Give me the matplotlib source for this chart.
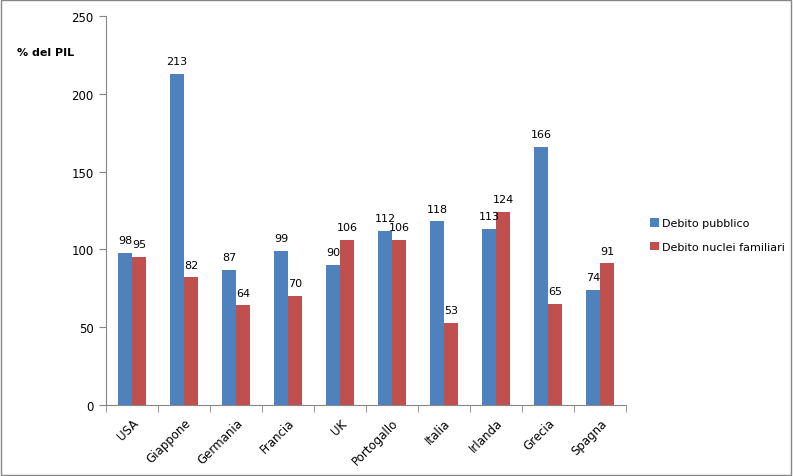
import matplotlib.pyplot as plt
import numpy as np

paesi = ['USA', 'Giappone', 'Germania', 'Francia', 'UK', 'Portogallo',
         'Italia', 'Irlanda', 'Grecia', 'Spagna']
debito_pubblico = [98, 213, 87, 99, 90, 112, 118, 113, 166, 74]
debito_famiglie = [95, 82, 64, 70, 106, 106, 53, 124, 65, 91]

blu = '#4F81BD'
rosso = '#C0504D'

plt.rcParams['font.family'] = 'DejaVu Sans'
plt.rcParams['font.size'] = 8

fig = plt.figure(figsize=(7.93, 4.77), dpi=100)
ax = fig.add_axes([106 / 793, 1 - 406 / 477, 520 / 793, 389 / 477])

x = np.arange(len(paesi))
w = 0.27
b1 = ax.bar(x - w / 2, debito_pubblico, w, color=blu, label='Debito pubblico')
b2 = ax.bar(x + w / 2, debito_famiglie, w, color=rosso, label='Debito nuclei familiari')

for bars, vals in ((b1, debito_pubblico), (b2, debito_famiglie)):
    for r, v in zip(bars, vals):
        ax.text(r.get_x() + r.get_width() / 2, v + 5, str(v),
                ha='center', va='bottom', fontsize=8)

ax.set_xlim(-0.5, len(paesi) - 0.5)
ax.set_ylim(0, 250)
ax.set_yticks(range(0, 251, 50))

ax.set_xticks(x)
ax.set_xticklabels(paesi, rotation=45, ha='right', rotation_mode='anchor',
                   fontsize=8.5)
ax.tick_params(axis='x', length=0, pad=8)
ax.set_xticks(np.arange(-0.5, len(paesi), 1), minor=True)
ax.tick_params(axis='x', which='minor', length=5, color='#868686', direction='out')
ax.tick_params(axis='y', length=5, color='#868686', direction='out', pad=4,
               labelsize=8.5)

for s in ('top', 'right'):
    ax.spines[s].set_visible(False)
for s in ('left', 'bottom'):
    ax.spines[s].set_color('#868686')

fig.text(17 / 793, 1 - 53 / 477, '% del PIL', fontsize=8, fontweight='bold',
         ha='left', va='center')

fig.legend(loc='center left', bbox_to_anchor=(640 / 793, 1 - 236 / 477),
           frameon=False, handlelength=0.8, handleheight=0.8,
           handletextpad=0.3, labelspacing=1.2, fontsize=8)

fig.patches.append(plt.Rectangle((0.001, 0.002), 0.997, 0.996, transform=fig.transFigure,
                                 fill=False, edgecolor='#868686', linewidth=1))

fig.savefig('out.png', dpi=100)
